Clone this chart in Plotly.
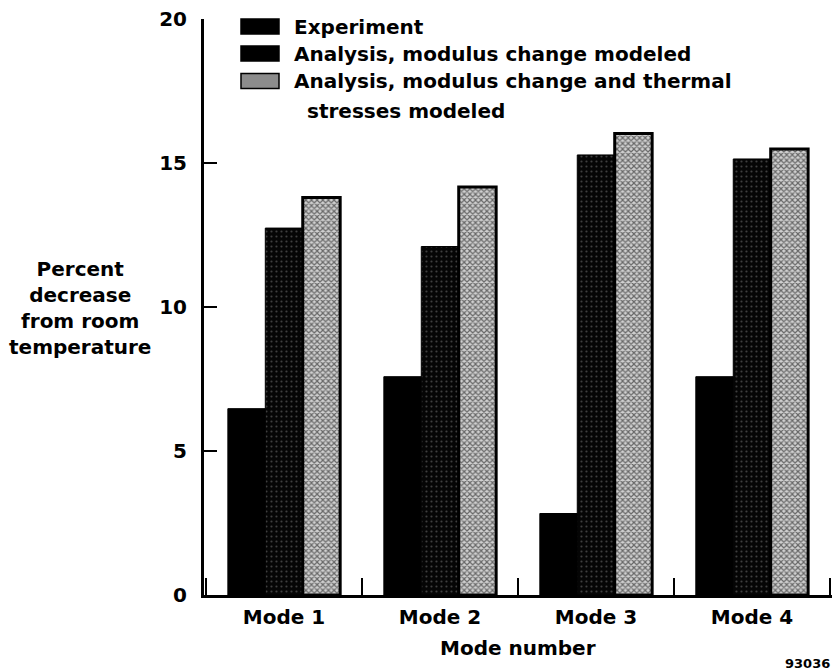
import plotly.graph_objects as go

modes = ["Mode 1", "Mode 2", "Mode 3", "Mode 4"]
experiment = [6.47, 7.58, 2.83, 7.58]
analysis_modulus = [12.74, 12.1, 15.28, 15.14]
analysis_thermal = [13.8, 14.17, 16.02, 15.49]
y_ticks = [0, 5, 10, 15, 20]
legend_labels = [
    "Experiment",
    "Analysis, modulus change modeled",
    "Analysis, modulus change and thermal",
]
legend_cont = "stresses modeled"

FONT = "DejaVu Sans"
fs = 20
W, H = 832, 671
ML, MR, MT, MB = 204, 0, 19, 76
PW, PH = W - ML - MR, H - MT - MB


def px(x):
    return (x - ML) / PW


def py(y):
    return (H - MB - y) / PH


exp_style = dict(color="black", line=dict(color="black", width=1))
mod_style = dict(color="#0a0a0a", line=dict(color="black", width=1),
                 pattern=dict(shape=".", bgcolor="#050505", fgcolor="#7a7a7a",
                              size=5, solidity=0.15))
th_style = dict(color="#999999", line=dict(color="black", width=3),
                pattern=dict(shape="x", bgcolor="#d0d0d0", fgcolor="#000000",
                             size=4, solidity=0.5))

fig = go.Figure()
fig.add_trace(go.Bar(x=modes, y=experiment, name=legend_labels[0], marker=exp_style))
fig.add_trace(go.Bar(x=modes, y=analysis_modulus, name=legend_labels[1], marker=mod_style))
fig.add_trace(go.Bar(x=modes, y=analysis_thermal, name=legend_labels[2], marker=th_style))

fig.update_layout(
    width=W, height=H,
    margin=dict(l=ML, r=MR, t=MT, b=MB),
    paper_bgcolor="white", plot_bgcolor="white",
    barmode="group", bargap=0.28, bargroupgap=0,
    font=dict(family=FONT, size=fs, color="black", weight="bold"),
    showlegend=False,
)
fig.update_xaxes(
    range=[-0.513, 3.513], showline=True, linecolor="black", linewidth=3,
    ticks="inside", ticklen=17, tickwidth=2, tickcolor="black",
    tickson="boundaries", showgrid=False, zeroline=False,
    ticklabelstandoff=2,
    tickfont=dict(family=FONT, size=fs, weight="bold"),
)
fig.update_yaxes(
    range=[0, 20], tickvals=y_ticks, showline=True, linecolor="black", linewidth=3,
    ticks="inside", ticklen=13, tickwidth=2, tickcolor="black",
    showgrid=False, zeroline=False, ticklabelstandoff=10,
    tickfont=dict(family=FONT, size=fs, weight="bold"),
)

# Legend (drawn manually so the swatches match the original size)
sw_x0, sw_x1 = 241, 279
row_y = [26.5, 53.5, 81]
fills = ["black", "black", "#8c8c8c"]
for label, yc, fc in zip(legend_labels, row_y, fills):
    fig.add_shape(type="rect", xref="paper", yref="paper",
                  x0=px(sw_x0), x1=px(sw_x1), y0=py(yc - 7.5), y1=py(yc + 7.5),
                  fillcolor=fc, line=dict(color="black", width=1.5))
    fig.add_annotation(text=label, xref="paper", yref="paper", x=px(292), y=py(yc),
                       xanchor="left", yanchor="middle", showarrow=False,
                       font=dict(family=FONT, size=fs, weight="bold"))
fig.add_annotation(text=legend_cont, xref="paper", yref="paper", x=px(305), y=py(111),
                   xanchor="left", yanchor="middle", showarrow=False,
                   font=dict(family=FONT, size=fs, weight="bold"))

fig.add_annotation(
    text="Percent<br>decrease<br>from room<br>temperature",
    xref="paper", yref="paper", x=px(80), y=py(308), xanchor="center", yanchor="middle",
    showarrow=False, align="center",
    font=dict(family=FONT, size=fs, weight="bold"),
)
fig.add_annotation(
    text="Mode number", xref="paper", yref="paper", x=0.5, y=py(648),
    xanchor="center", yanchor="middle", showarrow=False,
    font=dict(family=FONT, size=fs, weight="bold"),
)
fig.add_annotation(
    text="93036", xref="paper", yref="paper", x=1.0, y=py(663),
    xanchor="right", yanchor="middle", showarrow=False,
    font=dict(family=FONT, size=13, weight="bold"),
)

fig.write_html("out.html")
